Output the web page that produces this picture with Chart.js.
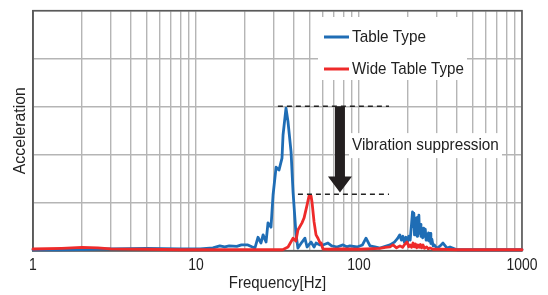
<!DOCTYPE html>
<html><head><meta charset="utf-8">
<script src="https://cdn.jsdelivr.net/npm/chart.js@4/dist/chart.umd.min.js"></script>
<style>html,body{margin:0;padding:0;background:#fff}#wrap{width:548px;height:295px}</style>
</head><body><div id="wrap"><canvas id="c" width="548" height="295"></canvas></div>
<script>
const tickValues = [1, 10, 100, 1000];
const tickLabels = ['1', '10', '100', '1000'];
const gridFreqs = [1,2,3,4,5,6,7,8,9,10,20,30,40,50,60,70,80,90,100,200,300,400,500,600,700,800,900,1000];

const freqTable = [1, 1.5, 2, 3, 5, 8, 10.6, 12.7, 14, 15, 16, 17.8, 19, 20.8, 22, 23, 24, 25.05, 25.8, 26.9, 27.65, 28.85, 29.7, 31, 32.3, 33.7, 34.2, 35.66, 36.7, 38.3, 39.4, 41.1, 42.2, 44.7, 46.6, 48, 50.8, 53, 54.5, 57.7, 60.1, 64.5, 68, 73.3, 79.8, 84, 88, 97.2, 105, 110.4, 116.8, 125, 134.5, 145, 155, 165, 172, 178, 182, 186, 190, 194, 198, 202, 206, 210, 213, 215, 217, 219, 221, 223, 225, 227, 229, 231, 233, 235, 237, 240, 243, 246, 249, 252, 255, 258, 261, 264, 267, 270, 273, 276, 280, 285, 290, 300, 315, 327.6, 346.7, 361.7, 399, 550, 1000];
const accTable  = [0.02, 0.02, 0.025, 0.04, 0.05, 0.04, 0.04, 0.06, 0.1, 0.08, 0.1, 0.09, 0.12, 0.12, 0.08, 0.06, 0.28, 0.16, 0.33, 0.18, 0.58, 0.49, 1.16, 1.74, 1.68, 1.93, 2.41, 2.97, 2.68, 2.06, 1.22, 0.33, 0.056, 0.18, 0.26, 0.077, 0.18, 0.077, 0.16, 0.12, 0.12, 0.16, 0.1, 0.077, 0.12, 0.08, 0.1, 0.077, 0.12, 0.26, 0.1, 0.08, 0.056, 0.09, 0.12, 0.18, 0.25, 0.33, 0.22, 0.3, 0.17, 0.28, 0.18, 0.3, 0.22, 0.55, 0.81, 0.5, 0.78, 0.33, 0.68, 0.35, 0.62, 0.3, 0.7, 0.42, 0.74, 0.36, 0.55, 0.3, 0.44, 0.27, 0.47, 0.3, 0.45, 0.22, 0.35, 0.24, 0.37, 0.2, 0.36, 0.15, 0.24, 0.1, 0.12, 0.05, 0.1, 0.16, 0.056, 0.077, 0.02, 0.02, 0.02];

const freqWide = [1, 1.5, 2, 2.5, 3, 5, 8, 15, 25, 30, 34, 36.7, 39.4, 41, 42.2, 44.7, 46, 48, 49.35, 50.8, 51.5, 53, 54.5, 56, 57.7, 58.5, 60.1, 65, 80, 100, 134, 145, 155, 161.7, 170, 178.4, 185, 191.5, 197, 202, 205.6, 210, 214.5, 218, 222, 226, 230, 234, 238, 242, 247, 252, 260, 266, 272.6, 285, 314, 400, 1000];
const accWide  = [0.035, 0.05, 0.07, 0.06, 0.04, 0.03, 0.02, 0.02, 0.02, 0.02, 0.02, 0.077, 0.26, 0.2, 0.43, 0.58, 0.68, 0.95, 1.14, 1.14, 1.01, 0.6, 0.33, 0.26, 0.16, 0.16, 0.035, 0.03, 0.035, 0.03, 0.05, 0.07, 0.08, 0.12, 0.06, 0.1, 0.07, 0.14, 0.18, 0.08, 0.12, 0.07, 0.16, 0.08, 0.14, 0.06, 0.12, 0.07, 0.13, 0.06, 0.12, 0.05, 0.08, 0.04, 0.056, 0.03, 0.03, 0.02, 0.02];

const seriesNames = ['Table Type', 'Wide Table Type'];
const upperLevel = 3.01, lowerLevel = 1.175;
const upperDashFrom = 31.8, lowerDashFrom = 42.2, dashTo = 152.8;
const arrowFreq = 76.4, arrowTip = 1.21;
const noteText = 'Vibration suppression';

const BLUE = '#1f6db5', RED = '#ee2a2a', INK = '#222';
const FONT = '"Liberation Sans", Arial, sans-serif';

function pts(xs, ys){ return xs.map((x,i)=>({x:x, y:ys[i]})); }
function txt(ctx, s, x, y, align, sx, rot){
  ctx.save(); ctx.translate(x, y); if (rot) ctx.rotate(rot); ctx.scale(sx, 1);
  ctx.textAlign = align; ctx.textBaseline = 'middle'; ctx.fillText(s, 0, 0); ctx.restore();
}

const deco = {
  id: 'deco',
  beforeDatasetsDraw(chart){
    const {ctx, chartArea:a} = chart;
    ctx.save();
    ctx.strokeStyle = '#5a5a5a'; ctx.lineWidth = 1.6;
    ctx.strokeRect(a.left, a.top, a.right - a.left, a.bottom - a.top);
    ctx.restore();
  },
  afterDraw(chart){
    const {ctx, chartArea:a, scales:{x, y}} = chart;
    ctx.save();
    ctx.font = '17px ' + FONT;
    // legend box
    ctx.fillStyle = '#fff';
    ctx.fillRect(318, 17, 149, 63);
    ctx.lineWidth = 3;
    ctx.strokeStyle = BLUE; ctx.beginPath(); ctx.moveTo(324, 37); ctx.lineTo(349, 37); ctx.stroke();
    ctx.strokeStyle = RED; ctx.beginPath(); ctx.moveTo(324, 69); ctx.lineTo(349, 69); ctx.stroke();
    ctx.fillStyle = INK;
    txt(ctx, seriesNames[0], 352, 37, 'left', 0.9);
    txt(ctx, seriesNames[1], 352, 69, 'left', 0.89);
    // dashed lines
    ctx.strokeStyle = INK; ctx.lineWidth = 1.4; ctx.setLineDash([5,4]);
    ctx.beginPath();
    ctx.moveTo(x.getPixelForValue(upperDashFrom), y.getPixelForValue(upperLevel));
    ctx.lineTo(x.getPixelForValue(dashTo), y.getPixelForValue(upperLevel));
    ctx.moveTo(x.getPixelForValue(lowerDashFrom), y.getPixelForValue(lowerLevel));
    ctx.lineTo(x.getPixelForValue(dashTo), y.getPixelForValue(lowerLevel));
    ctx.stroke();
    ctx.setLineDash([]);
    // note box
    const ny = y.getPixelForValue(2.2);
    ctx.fillStyle = '#fff';
    ctx.fillRect(349, ny - 12, 153, 25);
    ctx.fillStyle = INK;
    txt(ctx, noteText, 352, ny, 'left', 0.9);
    // arrow
    const ax = x.getPixelForValue(arrowFreq);
    const top = y.getPixelForValue(upperLevel), tip = y.getPixelForValue(arrowTip);
    ctx.fillStyle = '#231f20';
    ctx.beginPath();
    ctx.moveTo(ax - 5, top); ctx.lineTo(ax + 5, top); ctx.lineTo(ax + 5, tip - 16);
    ctx.lineTo(ax + 12, tip - 16); ctx.lineTo(ax, tip); ctx.lineTo(ax - 12, tip - 16);
    ctx.lineTo(ax - 5, tip - 16); ctx.closePath(); ctx.fill();
    // x tick labels
    ctx.fillStyle = INK;
    tickValues.forEach((v, i) => txt(ctx, tickLabels[i], x.getPixelForValue(v), 265, 'center', 0.82));
    // axis titles
    txt(ctx, 'Frequency[Hz]', (a.left + a.right) / 2, 283, 'center', 0.88);
    txt(ctx, 'Acceleration', 20, (a.top + a.bottom) / 2, 'center', 0.93, -Math.PI / 2);
    ctx.restore();
  }
};

new Chart(document.getElementById('c'), {
  type: 'line',
  data: {
    datasets: [
      {label: seriesNames[0], data: pts(freqTable, accTable), borderColor: BLUE, borderWidth: 2.8, borderJoinStyle: 'round', borderCapStyle: 'round', pointRadius: 0, tension: 0, order: 2, clip: false},
      {label: seriesNames[1], data: pts(freqWide, accWide), borderColor: RED, borderWidth: 2.8, borderJoinStyle: 'round', borderCapStyle: 'round', pointRadius: 0, tension: 0, order: 1, clip: false}
    ]
  },
  options: {
    responsive: false, animation: false,
    layout: {padding: {top: 10.7, right: 26, left: 0, bottom: 0}},
    plugins: {legend: {display: false}, tooltip: {enabled: false}},
    scales: {
      x: {
        type: 'logarithmic', min: 1, max: 1000,
        afterBuildTicks: s => { s.ticks = gridFreqs.map(v => ({value: v})); },
        afterFit: s => { s.height = 44.3; },
        grid: {color: '#b5b5b5', lineWidth: 1.4, drawTicks: false},
        border: {color: '#5a5a5a', width: 1.6},
        ticks: {display: false, autoSkip: false}
      },
      y: {
        min: 0, max: 5,
        afterFit: s => { s.width = 33; },
        grid: {color: '#b5b5b5', lineWidth: 1.4, drawTicks: false},
        border: {color: '#5a5a5a', width: 1.6},
        ticks: {display: false, stepSize: 1}
      }
    }
  },
  plugins: [deco]
});
</script></body></html>
